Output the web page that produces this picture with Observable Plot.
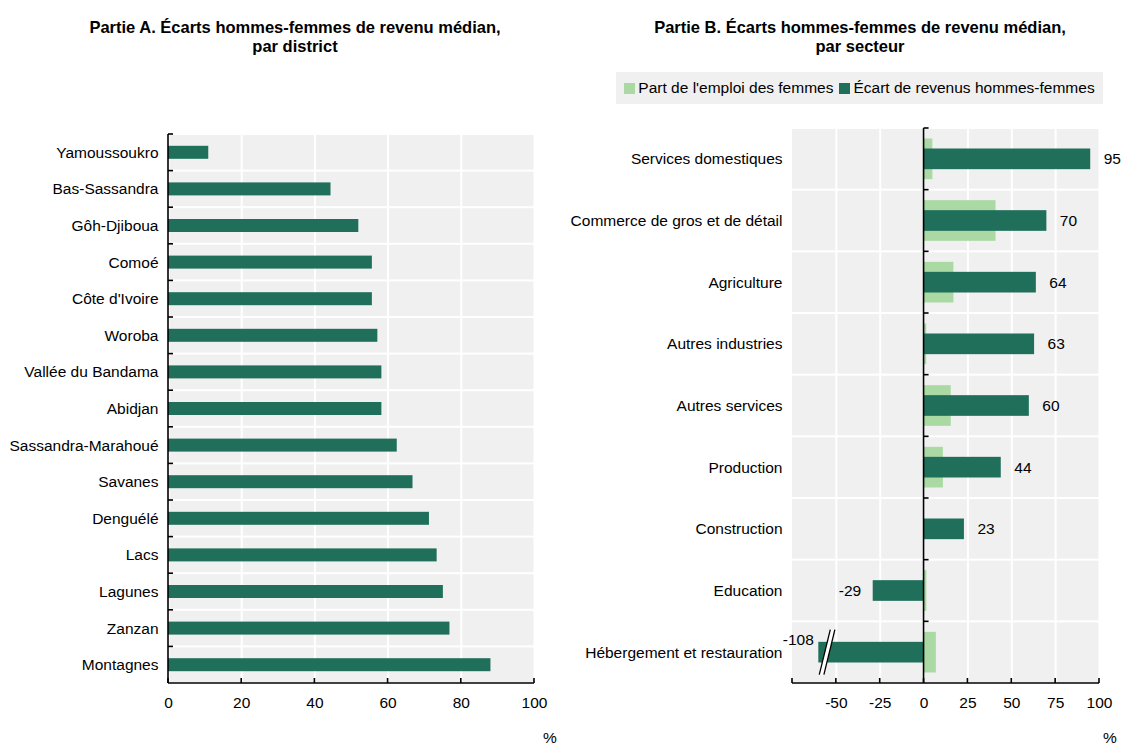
<!DOCTYPE html>
<html><head><meta charset="utf-8">
<script src="https://cdn.jsdelivr.net/npm/d3@7"></script>
<script src="https://cdn.jsdelivr.net/npm/@observablehq/plot@0.6"></script>
<style>
body{margin:0;background:#fff;}
#root{position:relative;width:1121px;height:746px;overflow:hidden;font-family:"Liberation Sans",Arial,sans-serif;color:#000;}
.title{position:absolute;top:18px;font-weight:bold;font-size:16.5px;line-height:19px;text-align:center;transform:translateX(-50%);white-space:nowrap;}
.panel{position:absolute;top:0;}
.legend{position:absolute;left:616px;top:72px;width:487px;height:32px;background:#f0f0f0;font-size:15.5px;display:flex;align-items:center;justify-content:center;white-space:nowrap;}
.legend .sw{display:inline-block;width:11px;height:11px;margin-right:3px;}
.legend .item{display:flex;align-items:center;margin:0 3px;}
.pct{position:absolute;font-size:15.5px;top:729px;}
</style></head>
<body>
<div id="root">
  <div class="title" style="left:295px">Partie A. Écarts hommes-femmes de revenu médian,<br>par district</div>
  <div class="title" style="left:860px">Partie B. Écarts hommes-femmes de revenu médian,<br>par secteur</div>
  <div id="panelA" class="panel" style="left:0"></div>
  <div id="panelB" class="panel" style="left:560px"></div>
  <div class="legend">
    <span class="item"><span class="sw" style="background:#abd9a4"></span>Part de l'emploi des femmes</span>
    <span class="item"><span class="sw" style="background:#1f6f5b"></span>Écart de revenus hommes-femmes</span>
  </div>
  <div class="pct" style="left:543px">%</div>
  <div class="pct" style="left:1103px">%</div>
</div>
<script>
// ---- Data ----
const districts = ["Yamoussoukro","Bas-Sassandra","Gôh-Djiboua","Comoé","Côte d'Ivoire","Woroba","Vallée du Bandama","Abidjan","Sassandra-Marahoué","Savanes","Denguélé","Lacs","Lagunes","Zanzan","Montagnes"];
const districtGap = [11, 44.4, 52, 55.7, 55.7, 57.2, 58.3, 58.3, 62.5, 66.8, 71.3, 73.4, 75.1, 76.9, 88.1];
const sectors = ["Services domestiques","Commerce de gros et de détail","Agriculture","Autres industries","Autres services","Production","Construction","Education","Hébergement et restauration"];
const womenShare = [5, 41, 17, 1.5, 15.5, 11, 0, 1.6, 7];
const sectorGap = [95, 70, 64, 63, 60, 44, 23, -29, -108];
const xTicksA = [0, 20, 40, 60, 80, 100];
const xTicksB = [-50, -25, 0, 25, 50, 75, 100];
const xDomainA = [0, 100];
const xDomainB = [-75, 100];
const breakDisplay = -60;   // truncated bar end for out-of-range value
const breakMark = -55;      // position of the axis-break symbol

const DARK = "#1f6f5b", LIGHT = "#abd9a4", BG = "#f0f0f0";
const FONT = "'Liberation Sans', Arial, sans-serif";

const dataA = districts.map((d, i) => ({name: d, value: districtGap[i]}));
const dataB = sectors.map((d, i) => ({name: d, share: womenShare[i], gap: sectorGap[i], shown: Math.max(sectorGap[i], breakDisplay)}));

const NS = "http://www.w3.org/2000/svg";
function el(tag, attrs) { const e = document.createElementNS(NS, tag); for (const k in attrs) e.setAttribute(k, attrs[k]); return e; }

// axis lines + inward ticks, drawn through the plot's scales
function axisDecor(cats, tickVals, yAxisAt) {
  return (index, scales) => {
    const x = scales.x, y = scales.y;
    const g = el("g", {stroke: "#000", "stroke-width": 1.6, fill: "none"});
    const [x0, x1] = x.range();
    const [y0, y1] = y.range();
    const bottom = Math.max(y0, y1), top = Math.min(y0, y1);
    g.appendChild(el("line", {x1: x0, x2: x1, y1: bottom, y2: bottom}));
    for (const t of tickVals) g.appendChild(el("line", {x1: x(t), x2: x(t), y1: bottom, y2: bottom - 5}));
    const ax = x(yAxisAt);
    g.appendChild(el("line", {x1: ax, x2: ax, y1: top, y2: bottom}));
    for (const c of cats) g.appendChild(el("line", {x1: ax, x2: ax + 5, y1: y(c), y2: y(c)}));
    return g;
  };
}

function breakSymbol(cat) {
  return (index, scales) => {
    const x = scales.x, y = scales.y;
    const bw = typeof y.bandwidth === "function" ? y.bandwidth() : y.bandwidth;
    const cy = y(cat) + bw / 2, cx = x(breakMark);
    const h = 22.5, s = 5.5, w = 2.3;
    const g = el("g", {});
    g.appendChild(el("polygon", {points: `${cx - s - w},${cy + h} ${cx - s + w},${cy + h} ${cx + s + w},${cy - h} ${cx + s - w},${cy - h}`, fill: "#fff", stroke: "none"}));
    g.appendChild(el("line", {x1: cx - s - w, y1: cy + h, x2: cx + s - w, y2: cy - h, stroke: "#000", "stroke-width": 1.3}));
    g.appendChild(el("line", {x1: cx - s + w, y1: cy + h, x2: cx + s + w, y2: cy - h, stroke: "#000", "stroke-width": 1.3}));
    return g;
  };
}

const common = {
  height: 746, marginTop: 134, marginBottom: 63,
  style: {fontFamily: FONT, fontSize: "15.5px", color: "#000", background: "transparent", overflow: "visible"}
};

const plotA = Plot.plot({
  ...common,
  width: 560, marginLeft: 168, marginRight: 26,
  x: {domain: xDomainA, ticks: xTicksA, tickSize: 0, tickPadding: 13, tickFormat: d => String(d), label: null},
  y: {domain: districts, padding: 0, round: false, tickSize: 0, tickPadding: 10, label: null},
  marks: [
    Plot.barX(districts, {x1: xDomainA[0], x2: xDomainA[1], y: d => d, fill: BG, insetTop: 1, insetBottom: 1}),
    Plot.ruleX(xTicksA, {stroke: "#fff", strokeWidth: 2}),
    Plot.barX(dataA, {x: "value", y: "name", fill: DARK, insetTop: 11.8, insetBottom: 11.8}),
    axisDecor(districts, xTicksA, 0)
  ]
});
document.getElementById("panelA").appendChild(plotA);

const xTickMarksB = [xDomainB[0], ...xTicksB];
const plotB = Plot.plot({
  ...common,
  width: 561, marginLeft: 232, marginRight: 22,
  marginTop: 128,
  x: {domain: xDomainB, ticks: xTicksB, tickSize: 0, tickPadding: 13, tickFormat: d => String(d), label: null},
  y: {domain: sectors, padding: 0, round: false, tickSize: 0, tickPadding: 10, label: null},
  marks: [
    Plot.barX(sectors, {x1: xDomainB[0], x2: xDomainB[1], y: d => d, fill: BG, insetTop: 1, insetBottom: 1}),
    Plot.ruleX(xTicksB, {stroke: "#fff", strokeWidth: 2}),
    Plot.barX(dataB, {x: "share", y: "name", fill: LIGHT, insetTop: 10.5, insetBottom: 10.5}),
    Plot.barX(dataB, {x: "shown", y: "name", fill: DARK, insetTop: 20.5, insetBottom: 20.5}),
    breakSymbol(sectors[sectors.length - 1]),
    Plot.text(dataB.filter(d => d.gap > 0), {x: "shown", y: "name", text: d => String(d.gap), textAnchor: "start", dx: 13, fill: "#000"}),
    Plot.text(dataB.filter(d => d.gap < 0 && d.gap >= breakDisplay), {x: "shown", y: "name", text: d => String(d.gap), textAnchor: "end", dx: -12, fill: "#000"}),
    Plot.text(dataB.filter(d => d.gap < breakDisplay), {x: "shown", y: "name", text: d => String(d.gap), textAnchor: "end", dx: -5, dy: -13, fill: "#000"}),
    axisDecor(sectors, xTickMarksB, 0)
  ]
});
document.getElementById("panelB").appendChild(plotB);
</script>
</body></html>
